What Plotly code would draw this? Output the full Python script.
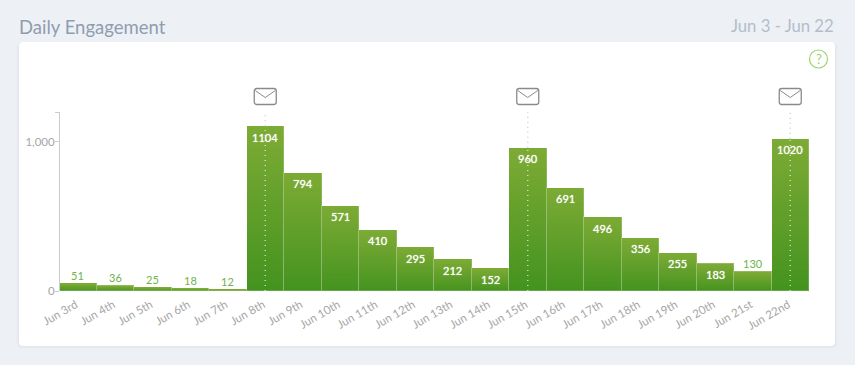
import plotly.graph_objects as go

days = ["Jun 3rd","Jun 4th","Jun 5th","Jun 6th","Jun 7th","Jun 8th","Jun 9th","Jun 10th","Jun 11th","Jun 12th",
        "Jun 13th","Jun 14th","Jun 15th","Jun 16th","Jun 17th","Jun 18th","Jun 19th","Jun 20th","Jun 21st","Jun 22nd"]
engagement = [51,36,25,18,12,1104,794,571,410,295,212,152,960,691,496,356,255,183,130,1020]
email_days = ["Jun 8th","Jun 15th","Jun 22nd"]
title = "Daily Engagement"
date_range = "Jun 3 - Jun 22"

W, H = 855, 365
L, R, T, B = 60, 809, 112, 291
BAR_W = 37.5
SLICES = 36
TOP = (125, 171, 53)
BOTTOM = (68, 147, 31)
FONT = "Lato, Open Sans, sans-serif"
INSIDE_MIN = 150

def mix(t):
    return "rgb(%d,%d,%d)" % tuple(round(BOTTOM[i] + (TOP[i] - BOTTOM[i]) * t) for i in range(3))

def rrect(a, x0, y0, x1, y1, r):
    return (f"M{a(x0 + r, y0)} L{a(x1 - r, y0)} Q{a(x1, y0)} {a(x1, y0 + r)} L{a(x1, y1 - r)} Q{a(x1, y1)} {a(x1 - r, y1)} "
            f"L{a(x0 + r, y1)} Q{a(x0, y1)} {a(x0, y1 - r)} L{a(x0, y0 + r)} Q{a(x0, y0)} {a(x0 + r, y0)} Z")

page = lambda x, y: f"{x - L},{B - y}"
pix = dict(xref="paper", yref="paper", xanchor=0, yanchor=0, xsizemode="pixel", ysizemode="pixel", type="path")

fig = go.Figure()
fig.add_bar(x=days, y=engagement, marker=dict(color=mix(0.5), line_width=0), width=1, hoverinfo="skip")
for s in range(SLICES):
    fig.add_bar(x=days, y=[v / SLICES for v in engagement], base=[v * s / SLICES for v in engagement],
                marker=dict(color=mix((s + 0.5) / SLICES), line_width=0), width=1, hoverinfo="skip")
fig.add_bar(x=days, y=engagement, width=1, hoverinfo="skip",
            marker=dict(color="rgba(0,0,0,0)", line=dict(color="rgba(255,255,255,0.18)", width=1)))

for d in email_days:
    v = engagement[days.index(d)]
    fig.add_scatter(x=[d, d], y=[v, 1200], mode="lines", hoverinfo="skip",
                    line=dict(color="#cfcfcf", width=1.5, dash="1px 4px"))
    fig.add_scatter(x=[d, d], y=[0, v], mode="lines", hoverinfo="skip",
                    line=dict(color="rgba(255,255,255,0.65)", width=1.5, dash="1px 4px"))

annotations = []
for d, v in zip(days, engagement):
    inside = v >= INSIDE_MIN
    annotations.append(dict(x=d, y=v, xref="x", yref="y", text=str(v), showarrow=False, yanchor="middle",
                            yshift=-11 if inside else 8,
                            font=dict(family=FONT, size=11, color="white" if inside else "#6fb24a",
                                      shadow="0 0 1px rgba(255,255,255,0.9)" if inside else "none")))

shapes = []
for g, op in ((3, 0.012), (2, 0.018), (1, 0.025)):
    shapes.append(dict(**pix, layer="below", path=rrect(page, 19 - g, 42, 835 + g, 346 + g, 4 + g),
                       fillcolor=f"rgba(60,80,110,{op})", line_width=0))
shapes.append(dict(**pix, layer="below", path=rrect(page, 19, 42, 835, 346, 4), fillcolor="white", line_width=0))

for d in email_days:
    e = dict(xref="x", yref="paper", xanchor=d, yanchor=0, xsizemode="pixel", ysizemode="pixel", type="path")
    a = lambda x, y: f"{x},{B - y}"
    x0, x1, y0, y1 = -11, 11, 88.5, 104.5
    shapes.append(dict(**e, path=rrect(a, x0, y0, x1, y1, 2.5), fillcolor="white", line=dict(color="#8a8a8a", width=1.3)))
    shapes.append(dict(**e, path=f"M{a(x0 + 1, y0 + 2)} L{a(0, y0 + 9)} L{a(x1 - 1, y0 + 2)}", line=dict(color="#8a8a8a", width=1)))

shapes.append(dict(type="circle", xref="paper", yref="paper", xanchor=0, yanchor=0, xsizemode="pixel", ysizemode="pixel",
                   x0=809.5 - L, x1=827.5 - L, y0=B - 50, y1=B - 68, line=dict(color="#9bd46a", width=1.2)))

ax_w, ax_h = R - L, B - T
annotations += [
    dict(text=title, xref="paper", yref="paper", x=(17 - L) / ax_w, y=(B - 27) / ax_h, xanchor="left", yanchor="middle",
         showarrow=False, font=dict(family=FONT, size=18.5, color="#8f9db0")),
    dict(text=date_range, xref="paper", yref="paper", x=(836 - L) / ax_w, y=(B - 26) / ax_h, xanchor="right", yanchor="middle",
         showarrow=False, font=dict(family=FONT, size=16.7, color="#b4bdca")),
    dict(text="?", xref="paper", yref="paper", x=(818.5 - L) / ax_w, y=(B - 59) / ax_h, xanchor="center", yanchor="middle",
         showarrow=False, font=dict(family=FONT, size=13, color="#9bd46a")),
]

fig.update_layout(
    width=W, height=H, barmode="overlay", bargap=0, showlegend=False,
    margin=dict(l=L, r=W - R, t=T, b=H - B, pad=0),
    paper_bgcolor="#edf0f5", plot_bgcolor="rgba(0,0,0,0)",
    font=dict(family=FONT, color="#a0a0a0", size=12),
    shapes=shapes, annotations=annotations,
    xaxis=dict(type="category", categoryorder="array", categoryarray=days, range=[-0.5 + 1 / BAR_W, 19.5], tickangle=-30,
               showgrid=False, zeroline=False, showline=False, ticks="", ticklabelstandoff=4, ticklabelshift=-2,
               tickfont=dict(size=11.5, color="#a6a6a6")),
    yaxis=dict(range=[0, 1200], tickvals=[0, 1000, 1200], ticktext=["0", "1,000", ""], showgrid=False, zeroline=False,
               showline=True, linecolor="#cccccc", linewidth=1, ticks="outside", ticklen=4, tickcolor="#cccccc",
               ticklabelstandoff=-2, tickfont=dict(size=11.5, color="#a6a6a6")),
)

fig.write_html("out.html", config=dict(displayModeBar=False),
               post_script="document.body.style.margin='0';document.body.style.overflow='hidden';")
